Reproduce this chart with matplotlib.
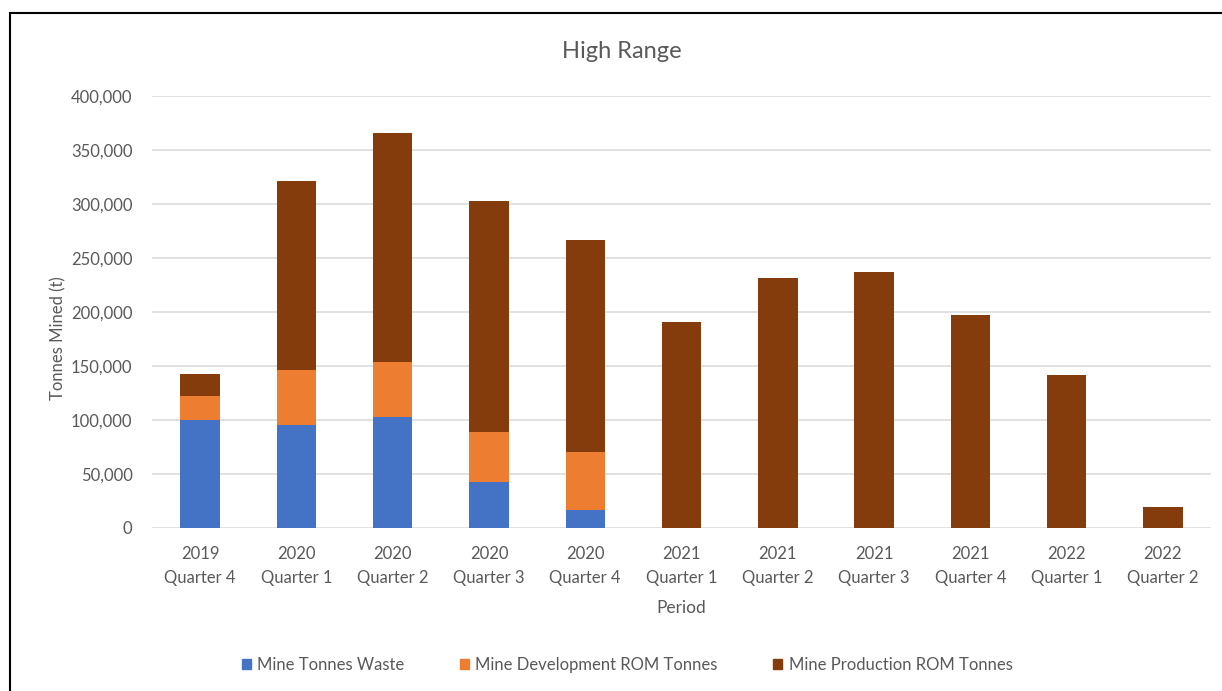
import matplotlib.pyplot as plt
import matplotlib.patches as mpatches
from matplotlib.ticker import FuncFormatter

# Quarterly tonnes mined, high range case
periods = ["2019\nQuarter 4", "2020\nQuarter 1", "2020\nQuarter 2", "2020\nQuarter 3",
           "2020\nQuarter 4", "2021\nQuarter 1", "2021\nQuarter 2", "2021\nQuarter 3",
           "2021\nQuarter 4", "2022\nQuarter 1", "2022\nQuarter 2"]
waste = [100000, 95000, 103000, 43000, 16500, 0, 0, 0, 0, 0, 0]
development = [22500, 51500, 50500, 46000, 53500, 0, 0, 0, 0, 0, 0]
production = [20000, 175000, 212000, 213500, 196500, 190500, 231500, 237000, 197500, 142000, 19500]

series_names = ["Mine Tonnes Waste", "Mine Development ROM Tonnes", "Mine Production ROM Tonnes"]
colors = ["#4472C4", "#ED7D31", "#843C0C"]
text_grey = "#595959"

plt.rcParams['font.family'] = ['Lato', 'DejaVu Sans']

fig = plt.figure(figsize=(12.22, 6.91), dpi=100)
ax = fig.add_axes([0.1244, 0.2359, 0.8666, 0.6251])

x = list(range(len(periods)))
bottom_dev = waste
bottom_prod = [w + d for w, d in zip(waste, development)]
width = 0.41
ax.bar(x, waste, width, color=colors[0], label=series_names[0], zorder=3)
ax.bar(x, development, width, bottom=bottom_dev, color=colors[1], label=series_names[1], zorder=3)
ax.bar(x, production, width, bottom=bottom_prod, color=colors[2], label=series_names[2], zorder=3)

ax.set_xlim(-0.5, len(periods) - 0.5)
ax.set_ylim(0, 400000)
ax.set_yticks(range(0, 400001, 50000))
ax.yaxis.set_major_formatter(FuncFormatter(lambda v, p: f"{int(v):,}"))
ax.set_xticks(x)
ax.set_xticklabels(periods, linespacing=1.62)
ax.grid(axis='y', color='#d9d9d9', linewidth=1.1, zorder=0)
for side in ['top', 'right', 'left', 'bottom']:
    ax.spines[side].set_visible(False)
ax.tick_params(axis='both', length=0, labelsize=12, colors=text_grey)
ax.tick_params(axis='x', pad=13)
ax.tick_params(axis='y', pad=14)

fig.text(622 / 1222, 1 - 52 / 691, "High Range", ha='center', va='center',
         fontsize=17, color=text_grey)
ax.set_ylabel("Tonnes Mined (t)", fontsize=12, color=text_grey)
ax.yaxis.set_label_coords(-0.081, 0.44)
ax.set_xlabel("Period", fontsize=12.5, color=text_grey, labelpad=10)

handles = [mpatches.Patch(color=c, label=n) for c, n in zip(colors, series_names)]
fig.legend(handles=handles, loc='center', bbox_to_anchor=(627 / 1222, 1 - 665 / 691),
           ncol=3, frameon=False, fontsize=12, labelcolor=text_grey,
           handlelength=0.55, handleheight=0.55, handletextpad=0.4, columnspacing=3.3)

# outer chart frame
frame = mpatches.Rectangle((10 / 1222, -0.05), 1.1, 1 - 13 / 691 + 0.05,
                           transform=fig.transFigure, fill=False,
                           edgecolor='black', linewidth=1.5, clip_on=False)
fig.patches.append(frame)

fig.savefig("out.png", dpi=100)
